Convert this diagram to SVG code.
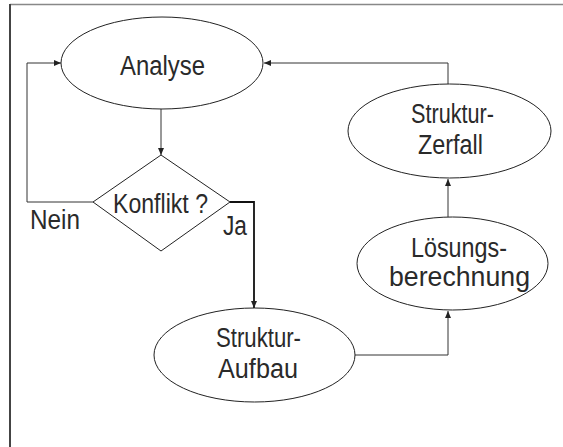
<svg xmlns="http://www.w3.org/2000/svg" width="563" height="447" viewBox="0 0 563 447">
<style>
.shape{fill:#fff;stroke:#222;stroke-width:1}
.conn{fill:none;stroke:#333;stroke-width:1}
.thick{stroke:#111;stroke-width:1.8}
.lbl{font-family:"Liberation Sans",Arial,sans-serif;font-size:27px;fill:#2a2a2a}
</style>
<defs>
<marker id="arr" markerWidth="8" markerHeight="6" refX="7" refY="3" orient="auto" markerUnits="userSpaceOnUse">
<path d="M0,0 L7,3 L0,6 Z" fill="#222"/>
</marker>
</defs>
<rect width="563" height="447" fill="#fff"/>
<g id="frame">
<line x1="10" y1="4.5" x2="563" y2="4.5" stroke="#888" stroke-width="1.5"/>
<line x1="10" y1="4" x2="10" y2="447" stroke="#444" stroke-width="2"/>
</g>
<g id="connectors">
<line class="conn" x1="161" y1="109" x2="161" y2="155" marker-end="url(#arr)"/>
<polyline class="conn" points="93,202 27,202 27,63 61,63" marker-end="url(#arr)"/>
<polyline class="conn thick" points="230,202 254,202 254,308" marker-end="url(#arr)"/>
<polyline class="conn" points="355,355 448,355 448,311" marker-end="url(#arr)"/>
<line class="conn" x1="448" y1="217" x2="448" y2="179" marker-end="url(#arr)"/>
<polyline class="conn" points="448,84 448,63 264,63" marker-end="url(#arr)"/>
</g>
<g id="analyse">
<ellipse class="shape" cx="162" cy="63" rx="101" ry="46"/>
<text class="lbl" x="120" y="75" textLength="85" lengthAdjust="spacingAndGlyphs">Analyse</text>
</g>
<g id="konflikt">
<polygon class="shape" points="161,155 230,202 161,251 93,202"/>
<text class="lbl" x="113" y="213" textLength="95" lengthAdjust="spacingAndGlyphs">Konflikt ?</text>
</g>
<g id="label-nein">
<text class="lbl" x="30" y="229" textLength="50" lengthAdjust="spacingAndGlyphs">Nein</text>
</g>
<g id="label-ja">
<text class="lbl" x="223" y="235" textLength="24" lengthAdjust="spacingAndGlyphs">Ja</text>
</g>
<g id="aufbau">
<ellipse class="shape" cx="254.5" cy="355" rx="100.5" ry="47"/>
<text class="lbl" x="216" y="347" textLength="85" lengthAdjust="spacingAndGlyphs">Struktur-</text>
<text class="lbl" x="218" y="378" textLength="80" lengthAdjust="spacingAndGlyphs">Aufbau</text>
</g>
<g id="loesung">
<ellipse class="shape" cx="452.5" cy="263.5" rx="95.5" ry="46.5"/>
<text class="lbl" x="411" y="257" textLength="96" lengthAdjust="spacingAndGlyphs">Lösungs-</text>
<text class="lbl" x="389" y="286" textLength="141" lengthAdjust="spacingAndGlyphs">berechnung</text>
</g>
<g id="zerfall">
<ellipse class="shape" cx="449.5" cy="131" rx="101.5" ry="47"/>
<text class="lbl" x="411" y="123" textLength="83" lengthAdjust="spacingAndGlyphs">Struktur-</text>
<text class="lbl" x="418" y="154" textLength="65" lengthAdjust="spacingAndGlyphs">Zerfall</text>
</g>
</svg>
